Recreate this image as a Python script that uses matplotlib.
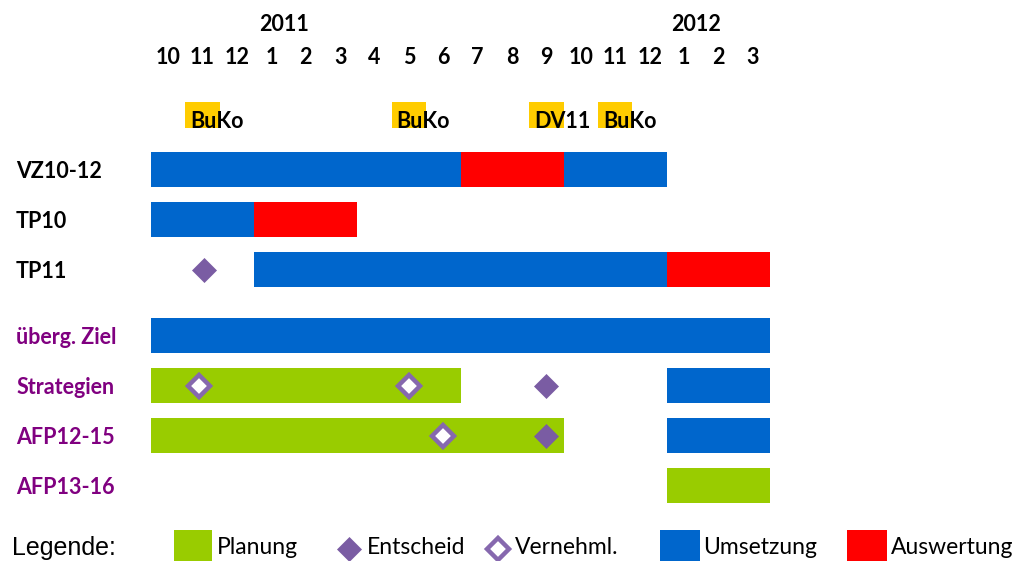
import matplotlib
matplotlib.use("Agg")
import matplotlib.pyplot as plt
from matplotlib.patches import Rectangle

# Monate Okt 2010 .. Maerz 2012
months = ['10', '11', '12', '1', '2', '3', '4', '5', '6', '7', '8', '9',
          '10', '11', '12', '1', '2', '3']
years = [('2011', 3), ('2012', 15)]

rows = ['VZ10-12', 'TP10', 'TP11', 'überg. Ziel', 'Strategien', 'AFP12-15', 'AFP13-16']
row_pos = [0, 1, 2, 3.32, 4.32, 5.32, 6.32]
row_color = ['black', 'black', 'black', '#800080', '#800080', '#800080', '#800080']

# Termine (Monatsindex)
termine = [('BuKo', 1), ('BuKo', 7), ('DV11', 11), ('BuKo', 13)]

# Balken: (Zeile, Start, Ende) in Monaten
planung = [('Strategien', 0, 9), ('AFP12-15', 0, 12), ('AFP13-16', 15, 18)]
umsetzung = [('VZ10-12', 0, 9), ('VZ10-12', 12, 15), ('TP10', 0, 3), ('TP11', 3, 15),
             ('überg. Ziel', 0, 18), ('Strategien', 15, 18), ('AFP12-15', 15, 18)]
auswertung = [('VZ10-12', 9, 12), ('TP10', 3, 6), ('TP11', 15, 18)]

# Meilensteine
entscheid = [('TP11', 1.53), ('Strategien', 11.5), ('AFP12-15', 11.5)]
vernehml = [('Strategien', 1.4), ('Strategien', 7.5), ('AFP12-15', 8.5)]

GREEN = '#99CC00'
BLUE = '#0066CC'
RED = '#FF0000'
YELLOW = '#FFCC00'
DIA = '#7A5CA3'
DIA_EDGE = '#8668AE'

fig = plt.figure(figsize=(10.19, 5.61), dpi=100)
ax = fig.add_axes([0, 0, 1, 1])
ax.set_xlim(-151 / 34.39, (1019 - 151) / 34.39)
ax.set_ylim(7.83, -3.39)
ax.axis('off')

font = 'Lato'
fs = 15.5

ypos = dict(zip(rows, row_pos))
h = 0.7

for bars, col in [(planung, GREEN), (umsetzung, BLUE), (auswertung, RED)]:
    for name, a, b in bars:
        ax.barh(ypos[name], b - a, left=a, height=h, color=col, linewidth=0)

for name, x in entscheid:
    ax.plot(x, ypos[name], marker='D', ms=12.5, color=DIA, mec=DIA, mew=0.5, ls='none')
for name, x in vernehml:
    ax.plot(x, ypos[name], marker='D', ms=10.9, mfc='white', mec=DIA_EDGE, mew=3.2, ls='none')

# Achsenbeschriftung oben
for i, m in enumerate(months):
    ax.text(i + 0.5, -2.24, m, ha='center', va='center', fontsize=fs,
            fontweight='bold', family=font)
for y, i in years:
    ax.text(i + 0.86, -2.9, y, ha='center', va='center', fontsize=fs,
            fontweight='bold', family=font)

for lab, i in termine:
    ax.add_patch(Rectangle((i, -1.35), 1, 0.52, color=YELLOW, lw=0))
    ax.text(i + 0.14, -0.83, lab, ha='left', va='baseline', fontsize=fs,
            fontweight='bold', family=font)

for name, c in zip(rows, row_color):
    ax.text(-3.925, ypos[name] + 0.05, name, ha='left', va='center', fontsize=fs,
            fontweight='bold', color=c, family=font)

# Legende
ly = 7.56
lfs = 16.5
ax.text(-4.04, ly, 'Legende:', ha='left', va='center', fontsize=18,
        family='Liberation Sans')
ax.add_patch(Rectangle((0.669, 7.21), 1.105, 0.7, color=GREEN, lw=0))
ax.text(1.92, ly, 'Planung', ha='left', va='center', fontsize=lfs, family=font)
ax.plot(5.77, ly + 0.02, marker='D', ms=12.5, color=DIA, mec=DIA, mew=0.5, ls='none')
ax.text(6.28, ly, 'Entscheid', ha='left', va='center', fontsize=lfs, family=font)
ax.plot(10.09, ly + 0.02, marker='D', ms=10.9, mfc='white', mec=DIA_EDGE, mew=3.2, ls='none')
ax.text(10.58, ly, 'Vernehml.', ha='left', va='center', fontsize=lfs, family=font)
ax.add_patch(Rectangle((14.80, 7.21), 1.16, 0.7, color=BLUE, lw=0))
ax.text(16.05, ly, 'Umsetzung', ha='left', va='center', fontsize=lfs, family=font)
ax.add_patch(Rectangle((20.24, 7.21), 1.16, 0.7, color=RED, lw=0))
ax.text(21.52, ly, 'Auswertung', ha='left', va='center', fontsize=lfs, family=font)

fig.savefig('out.png', dpi=100)
